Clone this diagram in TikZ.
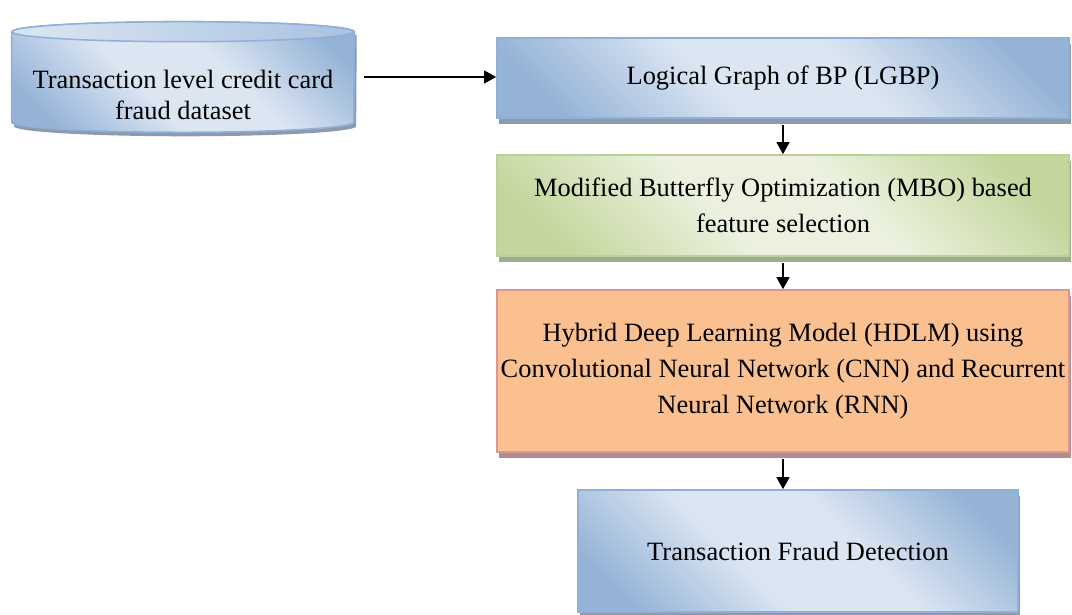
\documentclass[tikz,border=0pt]{standalone}
\usepackage{fontspec}
\setmainfont{Liberation Serif}
\usetikzlibrary{arrows.meta,shadows}
\definecolor{BlueLight}{HTML}{DCE6F2}
\definecolor{BlueDark}{HTML}{95B3D7}
\definecolor{BlueEdge}{HTML}{8EB0DA}
\definecolor{BlueShade}{HTML}{8E9AAA}
\definecolor{GreenLight}{HTML}{EBF1DE}
\definecolor{GreenDark}{HTML}{C3D69B}
\definecolor{GreenEdge}{HTML}{BCD197}
\definecolor{GreenShade}{HTML}{A3AA93}
\definecolor{Peach}{HTML}{FAC090}
\definecolor{PeachEdge}{HTML}{D99694}
\definecolor{PeachShade}{HTML}{B08D8C}
\pgfdeclareverticalshading{bluediag}{100bp}{color(0bp)=(BlueDark); color(22bp)=(BlueDark); color(42bp)=(BlueLight); color(58bp)=(BlueLight); color(78bp)=(BlueDark); color(100bp)=(BlueDark)}
\pgfdeclareverticalshading{greendiag}{100bp}{color(0bp)=(GreenDark); color(22bp)=(GreenDark); color(42bp)=(GreenLight); color(58bp)=(GreenLight); color(78bp)=(GreenDark); color(100bp)=(GreenDark)}
\tikzset{
  stage/.style={draw, line width=1.1pt, align=center, inner sep=0pt, font=\fontsize{18.8}{25.6}\selectfont},
  bluestage/.style={stage, draw=BlueEdge, shading=bluediag, shading angle=-45,
    drop shadow={shadow xshift=0.06cm, shadow yshift=-0.15cm, fill=BlueShade, opacity=1}},
  greenstage/.style={stage, draw=GreenEdge, shading=greendiag, shading angle=-45,
    drop shadow={shadow xshift=0.06cm, shadow yshift=-0.15cm, fill=GreenShade, opacity=1}},
  peachstage/.style={stage, draw=PeachEdge, fill=Peach,
    drop shadow={shadow xshift=0.06cm, shadow yshift=-0.15cm, fill=PeachShade, opacity=1}},
  cylbody/.style={inner sep=0pt, minimum width=8.55cm, minimum height=2.25cm},
  cylside/.style={draw=BlueEdge, line width=1.1pt, shading=bluediag, shading angle=-45,
    drop shadow={shadow xshift=0.06cm, shadow yshift=-0.1cm, fill=BlueShade, opacity=1}},
  cyltop/.style={draw=BlueEdge, line width=1.1pt, left color=BlueLight, right color=BlueDark!70!BlueLight},
  cyltext/.style={align=center, inner sep=0pt, font=\fontsize{18.8}{22}\selectfont},
  flowarrow/.style={-{Triangle[length=0.3cm, width=0.32cm]}, line width=1.2pt, black},
}
\begin{document}
\begin{tikzpicture}[x=0.025cm, y=-0.025cm]
  \useasboundingbox (0,0) rectangle (1072,615);
  % data store
  \node[cylbody] (data) at (183,77) {};
  \path[cylside] (data.north west) -- (data.south west)
    arc[start angle=180, end angle=360, x radius=4.275cm, y radius=0.25cm]
    -- (data.north east)
    arc[start angle=0, end angle=180, x radius=4.275cm, y radius=0.25cm] -- cycle;
  \path[cyltop] (data.north) ellipse [x radius=4.275cm, y radius=0.25cm];
  \node[cyltext] (datatext) at (183,94.5) {Transaction level credit card\\ fraud dataset};
  % pipeline
  \node[bluestage, minimum width=14.3cm, minimum height=2.0cm] (lgbp) at (783,78) {Logical Graph of BP (LGBP)};
  \node[greenstage, minimum width=14.3cm, minimum height=2.525cm] (mbo) at (783,205.5) {Modified Butterfly Optimization (MBO) based\\ feature selection};
  \node[peachstage, minimum width=14.3cm, minimum height=4.05cm] (hdlm) at (783,371) {Hybrid Deep Learning Model (HDLM) using\\ Convolutional Neural Network (CNN) and Recurrent\\ Neural Network (RNN)};
  \node[bluestage, minimum width=11.0cm, minimum height=3.05cm] (detect) at (798,551) {Transaction Fraud Detection};
  \draw[flowarrow, shorten <=0.25cm] (data.east) -- (data.east -| lgbp.west);
  \draw[flowarrow, shorten <=0.15cm] (lgbp.south) -- (mbo.north);
  \draw[flowarrow, shorten <=0.15cm] (mbo.south) -- (hdlm.north);
  \draw[flowarrow, shorten <=0.15cm] (hdlm.south) -- (hdlm.south |- detect.north);
\end{tikzpicture}
\end{document}
